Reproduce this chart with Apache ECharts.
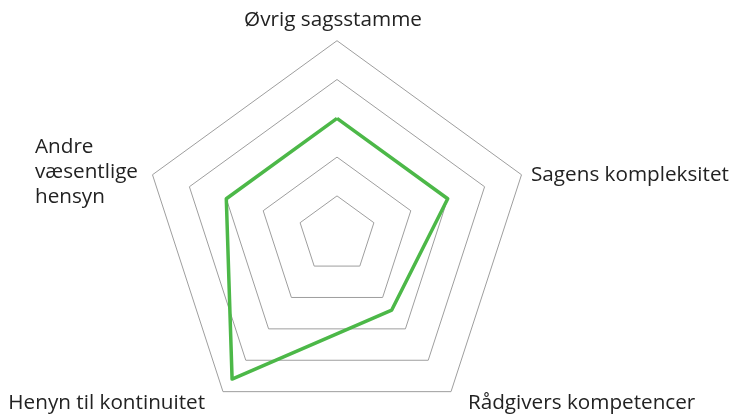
<!DOCTYPE html>
<html>
<head>
<meta charset="utf-8">
<script src="https://cdn.jsdelivr.net/npm/echarts@6/dist/echarts.min.js"></script>
<style>html,body{margin:0;padding:0;background:#fff}#c{width:733px;height:414px}</style>
</head>
<body>
<div id="c"></div>
<script>
// Indicators in ECharts order (counter-clockwise from top)
const indicatorNames = ["Øvrig sagsstamme", "Andre væsentlige hensyn", "Henyn til kontinuitet", "Rådgivers kompetencer", "Sagens kompleksitet"];
const indicatorMax = 5;
const seriesValues = [3, 3, 4.6, 2.4, 3];

const richKey = {
  "Øvrig sagsstamme": "top",
  "Andre væsentlige hensyn": "ul",
  "Henyn til kontinuitet": "bl",
  "Rådgivers kompetencer": "br",
  "Sagens kompleksitet": "ur"
};

const chart = echarts.init(document.getElementById('c'), null, {renderer: 'canvas'});
const baseText = {fontFamily: 'Open Sans', fontSize: 20.7, color: '#222'};
chart.setOption({
  animation: false,
  radar: {
    center: [337, 234.7],
    radius: 194,
    startAngle: 90,
    splitNumber: 5,
    shape: 'polygon',
    nameGap: 10,
    indicator: indicatorNames.map(n => ({name: n, max: indicatorMax, min: 0})),
    axisName: {
      ...baseText,
      formatter: function (name) {
        const k = richKey[name];
        if (k === 'ul') {
          return name.split(' ').map(w => '{ul|' + w + '}').join('\n');
        }
        return '{' + k + '|' + name + '}';
      },
      rich: {
        top: {...baseText, padding: [0, 8, 0, 0]},
        ul: {...baseText, width: 108, align: 'left', lineHeight: 25},
        bl: {...baseText, padding: [6, 12, 0, 0]},
        br: {...baseText, padding: [6, 0, 0, 11]},
        ur: {...baseText, padding: [6, 0, 0, 0]}
      }
    },
    axisLine: {show: false},
    axisTick: {show: false},
    axisLabel: {show: false},
    splitLine: {lineStyle: {color: '#9e9e9e', width: 1}},
    splitArea: {show: false}
  },
  series: [{
    type: 'radar',
    symbol: 'none',
    lineStyle: {color: '#4cb848', width: 3.5},
    data: [{value: seriesValues}]
  }]
});
</script>
</body>
</html>
